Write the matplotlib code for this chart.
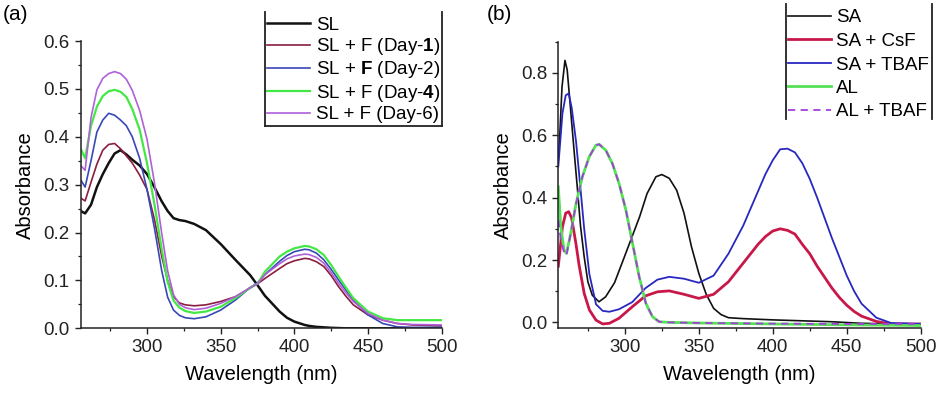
import numpy as np
import matplotlib
matplotlib.use("Agg")
import matplotlib.pyplot as plt
from matplotlib.ticker import MultipleLocator
from matplotlib.lines import Line2D

plt.rcParams['font.family'] = ['Liberation Sans', 'DejaVu Sans']
plt.rcParams['mathtext.fontset'] = 'custom'
plt.rcParams['mathtext.rm'] = 'Liberation Sans'
plt.rcParams['mathtext.bf'] = 'Liberation Sans:bold'

# ---- panel (a) data: SL with fluoride over days ----
wl_a = [255, 258, 262, 266, 270, 274, 278, 282, 286, 290, 295, 300, 305, 310,
        314, 318, 322, 326, 332, 340, 350, 360, 370, 375, 380, 390, 395, 400,
        407, 410, 415, 420, 425, 430, 435, 440, 450, 460, 470, 480, 500]
sl = [0.245, 0.240, 0.258, 0.295, 0.322, 0.345, 0.365, 0.372, 0.363, 0.352,
      0.340, 0.322, 0.295, 0.265, 0.245, 0.230, 0.226, 0.224, 0.218, 0.205,
      0.176, 0.143, 0.111, 0.090, 0.068, 0.035, 0.022, 0.014, 0.007, 0.005,
      0.003, 0.002, 0.001, 0.0005, 0.0, 0.0, 0.0, 0.0, 0.0, 0.0, 0.0]
day1 = [0.272, 0.266, 0.305, 0.343, 0.372, 0.384, 0.386, 0.375, 0.360, 0.345,
        0.320, 0.290, 0.228, 0.150, 0.100, 0.066, 0.053, 0.049, 0.047, 0.049,
        0.056, 0.066, 0.084, 0.093, 0.104, 0.125, 0.135, 0.141, 0.146, 0.145,
        0.139, 0.129, 0.110, 0.087, 0.067, 0.049, 0.028, 0.017, 0.010, 0.007,
        0.005]
day2 = [0.310, 0.295, 0.350, 0.410, 0.435, 0.449, 0.445, 0.435, 0.423, 0.400,
        0.355, 0.290, 0.210, 0.120, 0.065, 0.038, 0.027, 0.022, 0.020, 0.024,
        0.038, 0.059, 0.085, 0.095, 0.112, 0.140, 0.152, 0.160, 0.165, 0.164,
        0.157, 0.143, 0.123, 0.101, 0.080, 0.059, 0.028, 0.010, 0.003, 0.002,
        0.002]
day4 = [0.375, 0.355, 0.423, 0.463, 0.485, 0.495, 0.498, 0.494, 0.483, 0.458,
        0.415, 0.345, 0.260, 0.165, 0.097, 0.058, 0.043, 0.036, 0.032, 0.035,
        0.045, 0.063, 0.085, 0.093, 0.118, 0.150, 0.160, 0.167, 0.172, 0.171,
        0.165, 0.153, 0.132, 0.108, 0.085, 0.063, 0.035, 0.021, 0.017, 0.017,
        0.017]
day6 = [0.340, 0.330, 0.440, 0.498, 0.522, 0.532, 0.536, 0.532, 0.520, 0.497,
        0.455, 0.395, 0.305, 0.198, 0.120, 0.070, 0.050, 0.043, 0.039, 0.042,
        0.052, 0.066, 0.085, 0.093, 0.112, 0.135, 0.145, 0.151, 0.155, 0.154,
        0.148, 0.136, 0.116, 0.094, 0.074, 0.056, 0.031, 0.017, 0.010, 0.008,
        0.007]

# ---- panel (b) data ----
wl_sa = [255, 256, 257.5, 259.5, 261, 263, 265.5, 268, 270, 272.5, 275, 278,
         282.5, 287, 293, 298, 304, 310, 315, 321, 325, 330, 335, 340, 345,
         350, 355, 360, 365, 370, 380, 400, 420, 440, 460, 480, 500]
sa = [0.52, 0.60, 0.755, 0.84, 0.81, 0.70, 0.56, 0.424, 0.31, 0.21, 0.13,
      0.087, 0.066, 0.082, 0.127, 0.189, 0.264, 0.339, 0.413, 0.467, 0.474,
      0.462, 0.424, 0.350, 0.243, 0.157, 0.090, 0.045, 0.025, 0.015, 0.012,
      0.008, 0.005, 0.002, -0.003, -0.005, -0.005]

wl_b = [255, 257.8, 260, 262, 264, 267, 269, 272.5, 276, 280.5, 285, 289.5,
        296, 305, 314, 322, 330, 340, 350, 360, 370, 380, 390, 395, 400, 405,
        410, 415, 420, 425, 430, 435, 440, 445, 450, 455, 460, 470, 480, 500]
sa_csf = [0.18, 0.306, 0.350, 0.355, 0.335, 0.250, 0.185, 0.093, 0.040,
          0.007, -0.005, -0.003, 0.013, 0.050, 0.085, 0.098, 0.101, 0.090,
          0.077, 0.090, 0.130, 0.190, 0.250, 0.275, 0.293, 0.300, 0.295,
          0.283, 0.250, 0.220, 0.180, 0.145, 0.110, 0.080, 0.055, 0.035,
          0.020, 0.003, -0.005, -0.005]
sa_tbaf = [0.50, 0.67, 0.728, 0.734, 0.69, 0.58, 0.48, 0.30, 0.155, 0.058,
           0.037, 0.034, 0.042, 0.065, 0.110, 0.137, 0.146, 0.140, 0.127,
           0.150, 0.220, 0.310, 0.420, 0.475, 0.520, 0.555, 0.557, 0.545,
           0.510, 0.460, 0.400, 0.335, 0.270, 0.210, 0.150, 0.100, 0.060,
           0.015, -0.002, -0.005]

wl_al = [255, 256.7, 258.9, 260.5, 263.4, 267, 271.3, 275.9, 280.4, 282.6,
         287.1, 291.6, 296.1, 300.7, 305.2, 309.7, 314.2, 318.7, 323.2, 330,
         350, 400, 450, 500]
al = [0.435, 0.306, 0.232, 0.221, 0.285, 0.381, 0.467, 0.531, 0.568, 0.571,
      0.552, 0.509, 0.445, 0.360, 0.253, 0.146, 0.061, 0.018, 0.002, 0.0,
      -0.002, -0.005, -0.008, -0.010]
al_tbaf = [0.328, 0.264, 0.225, 0.215, 0.285, 0.381, 0.467, 0.531, 0.568,
           0.571, 0.552, 0.509, 0.445, 0.360, 0.253, 0.146, 0.061, 0.018,
           0.002, 0.0, -0.002, -0.004, -0.005, -0.005]

fig = plt.figure(figsize=(9.39, 3.94), dpi=100)
W, H = 939.0, 394.0

def px_axes(l, t, r, b):
    return fig.add_axes([l / W, 1 - b / H, (r - l) / W, (b - t) / H])

def style(ax):
    ax.spines['top'].set_visible(False)
    ax.spines['right'].set_visible(False)
    for s in ('left', 'bottom'):
        ax.spines[s].set_linewidth(1.1)
        ax.spines[s].set_color('#222222')
    ax.tick_params(which='major', direction='out', length=4.5, width=1.0,
                   labelsize=13.5, colors='#222222')
    ax.tick_params(which='minor', direction='out', length=2.5, width=0.9,
                   colors='#222222')
    ax.set_xlim(255, 500)
    ax.xaxis.set_minor_locator(MultipleLocator(25))
    ax.set_xticks([300, 350, 400, 450, 500])
    ax.set_xlabel('Wavelength (nm)', fontsize=14.5, labelpad=6)
    ax.set_ylabel('Absorbance', fontsize=14.5, labelpad=6)

def frame_lines(x0, x1, y0, y1, bottom=True):
    pts = [([x0, x0], [y0, y1]), ([x1, x1], [y0, y1])]
    if bottom:
        pts.append(([x0, x1], [y1, y1]))
    for xs, ys in pts:
        fig.add_artist(Line2D([x / W for x in xs], [1 - y / H for y in ys],
                              transform=fig.transFigure, color='#222222',
                              lw=1.3))

# panel (a)
ax1 = px_axes(80.7, 41, 441.7, 328.3)
style(ax1)
ax1.set_ylim(0, 0.6)
ax1.yaxis.set_minor_locator(MultipleLocator(0.05))
ax1.set_yticks([0.0, 0.1, 0.2, 0.3, 0.4, 0.5, 0.6])
ax1.set_yticklabels(['0.0', '0.1', '0.2', '0.3', '0.4', '0.5', '0.6'])
ax1.plot(wl_a, sl, color='#111111', lw=1.8, label='SL')
ax1.plot(wl_a, day1, color='#8B1E3F', lw=1.2, label=r'SL + F (Day-$\mathbf{1}$)')
ax1.plot(wl_a, day2, color='#3848B8', lw=1.2, label=r'SL + $\mathbf{F}$ (Day-2)')
ax1.plot(wl_a, day4, color='#44E844', lw=1.6, label=r'SL + F (Day-$\mathbf{4}$)')
ax1.plot(wl_a, day6, color='#B060D8', lw=1.2, label='SL + F (Day-6)')
leg1 = ax1.legend(loc='upper left', bbox_to_anchor=(265 / W, 1 - 15 / H),
                  bbox_transform=fig.transFigure, frameon=False, fontsize=13.5,
                  handlelength=2.3, handletextpad=0.3, labelspacing=0.12,
                  borderpad=0.1, borderaxespad=0)
frame_lines(265, 441.7, 12, 126, bottom=True)
fig.text(3 / W, 1 - 14 / H, '(a)', fontsize=15, va='center', ha='left')

# panel (b)
ax2 = px_axes(558.3, 41.7, 920.7, 328.3)
style(ax2)
ax2.set_ylim(-0.019, 0.9)
ax2.set_yticks([0.0, 0.2, 0.4, 0.6, 0.8])
ax2.set_yticklabels(['0.0', '0.2', '0.4', '0.6', '0.8'])
ax2.yaxis.set_minor_locator(MultipleLocator(0.1))
ax2.plot(wl_sa, sa, color='#111111', lw=1.2, label='SA')
ax2.plot(wl_b, sa_csf, color='#C8184A', lw=2.0, label='SA + CsF')
ax2.plot(wl_b, sa_tbaf, color='#2828C0', lw=1.3, label='SA + TBAF')
ax2.plot(wl_al, al, color='#55E055', lw=2.0, label='AL')
ax2.plot(wl_al, al_tbaf, color='#A040D8', lw=1.3, ls=(0, (4, 3)),
         label='AL + TBAF')
leg2 = ax2.legend(loc='upper left', bbox_to_anchor=(785.7 / W, 1 - 7.5 / H),
                  bbox_transform=fig.transFigure, frameon=False, fontsize=13.5,
                  handlelength=2.3, handletextpad=0.3, labelspacing=0.34,
                  borderpad=0.1, borderaxespad=0)
frame_lines(785.7, 932.3, 4, 119.3, bottom=False)
fig.text(487 / W, 1 - 15 / H, '(b)', fontsize=15, va='center', ha='left')

fig.savefig('out.png', dpi=100)
